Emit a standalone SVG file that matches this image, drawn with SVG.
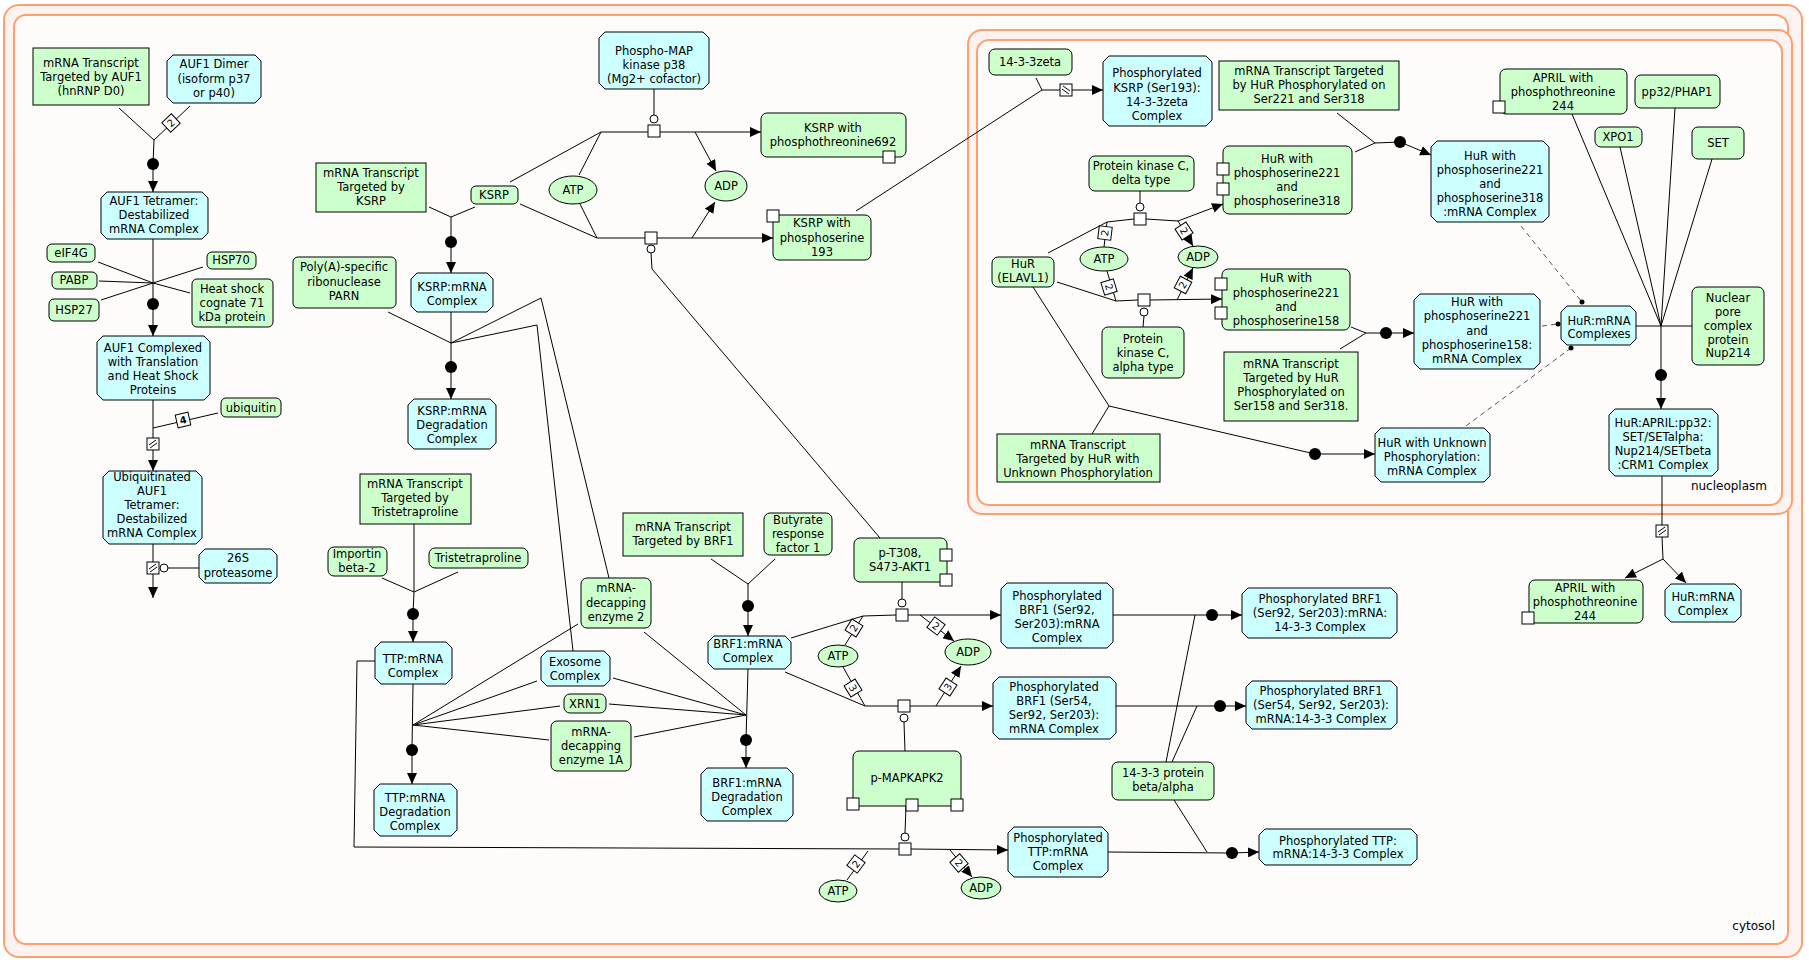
<svg xmlns="http://www.w3.org/2000/svg" width="1809" height="965" viewBox="0 0 1809 965">
<defs>
<marker id="arr" markerUnits="userSpaceOnUse" markerWidth="12" markerHeight="10" refX="11" refY="5" orient="auto"><path d="M0,0 L11,5 L0,10 z" fill="#000"/></marker>
<style>
.cpo{fill:#fcf2f0;stroke:#ff9f70;stroke-width:2}
.cpi{fill:#fdfcfb;stroke:#ff9f70;stroke-width:2}
.g{fill:#ccffcc;stroke:#000;stroke-width:1}
.b{fill:#ccffff;stroke:#000;stroke-width:1}
.m{fill:#fff;stroke:#000;stroke-width:1}
text{font-family:"DejaVu Sans","Liberation Sans",sans-serif;font-size:11.5px;text-anchor:middle;fill:#000}
.lbl{text-anchor:end;font-size:12px}
.c line,.c polyline,.c path{stroke:#000;fill:none;stroke-width:1}
.a{marker-end:url(#arr)}
.dot{fill:#000;stroke:none}
.cat{fill:#fff;stroke:#000;stroke-width:1}
.rs{fill:#fff;stroke:#000;stroke-width:1}
.st text{font-size:10px}
.c .dsh{stroke:#555;stroke-dasharray:5 4}
</style>
</defs>

<rect width="1809" height="965" fill="#fff"/>

<!-- compartments -->
<g id="cytosol">
<rect class="cpo" x="4" y="5" width="1798" height="952" rx="15"/>
<rect class="cpi" x="14" y="15" width="1774" height="929" rx="12"/>
<text class="lbl" x="1775" y="930">cytosol</text>
</g>
<g id="nucleoplasm">
<rect class="cpo" x="968" y="30" width="824" height="484" rx="14"/>
<rect class="cpi" x="977" y="40" width="805" height="465" rx="12"/>
<text class="lbl" x="1767" y="490">nucleoplasm</text>
</g>

<!-- connectors -->
<g id="connectors" class="c">
<!-- AUF1 dimer binds transcript -->
<polyline points="119,108 154,140 190,106"/>
<line x1="154" y1="140" x2="153" y2="164"/>
<circle class="dot" cx="153" cy="164" r="6"/>
<line class="a" x1="153" y1="164" x2="153" y2="192"/>
<g class="st" transform="translate(171,123) rotate(-43)"><rect class="rs" x="-6.5" y="-6.5" width="13" height="13"/><text y="3.5">2</text></g>

<!-- translation / heat shock complex -->
<line x1="153" y1="239" x2="153" y2="304"/>
<line x1="98" y1="262" x2="153" y2="283"/>
<line x1="99" y1="281" x2="153" y2="283"/>
<line x1="101" y1="300" x2="153" y2="283"/>
<line x1="203" y1="267" x2="153" y2="283"/>
<line x1="190" y1="293" x2="153" y2="283"/>
<circle class="dot" cx="153" cy="304" r="6"/>
<line class="a" x1="153" y1="304" x2="153" y2="336"/>

<!-- ubiquitination -->
<line x1="153" y1="400" x2="153" y2="438"/>
<line x1="218" y1="413" x2="153" y2="428"/>
<g class="st" transform="translate(183,420) rotate(-13)"><rect class="rs" x="-6.5" y="-6.5" width="13" height="13"/><text y="3.5" font-weight="bold">4</text></g>
<g transform="translate(153,444)"><rect class="rs" x="-6" y="-6" width="12" height="12"/><path d="M-4,1 L3,-4 M-3,4 L4,-1"/></g>
<line class="a" x1="153" y1="450" x2="153" y2="471"/>

<!-- proteasomal degradation -->
<line x1="153" y1="544" x2="153" y2="562"/>
<g transform="translate(153,568)"><rect class="rs" x="-6" y="-6" width="12" height="12"/><path d="M-4,1 L3,-4 M-3,4 L4,-1"/></g>
<circle class="cat" cx="164" cy="568" r="4"/>
<line x1="168" y1="568" x2="199" y2="568"/>
<line class="a" x1="153" y1="574" x2="153" y2="598"/>

<!-- KSRP binds transcript -->
<polyline points="429,207 451,217 475,207"/>
<line x1="451" y1="217" x2="451" y2="242"/>
<circle class="dot" cx="451" cy="242" r="6"/>
<line class="a" x1="451" y1="242" x2="451" y2="273"/>

<!-- KSRP degradation -->
<line x1="451" y1="312" x2="451" y2="367"/>
<line x1="388" y1="312" x2="451" y2="343"/>
<polyline points="451,343 537,325 573,651"/>
<polyline points="451,343 541,298 609,578"/>
<circle class="dot" cx="451" cy="367" r="6"/>
<line class="a" x1="451" y1="367" x2="451" y2="399"/>

<!-- p38 phosphorylates KSRP T692 -->
<line x1="654" y1="89" x2="654" y2="115"/>
<circle class="cat" cx="654" cy="119" r="4"/>
<polyline points="510,182 601,132 648,132"/>
<line x1="579" y1="175" x2="601" y2="132"/>
<rect class="rs" x="648" y="125" width="12" height="12"/>
<line class="a" x1="660" y1="132" x2="761" y2="132"/>
<line class="a" x1="695" y1="132" x2="716" y2="171"/>

<!-- AKT1 phosphorylates KSRP S193 -->
<polyline points="520,204 597,238 645,238"/>
<line x1="580" y1="204" x2="597" y2="238"/>
<rect class="rs" x="645" y="232" width="12" height="12"/>
<line class="a" x1="657" y1="238" x2="773" y2="238"/>
<line class="a" x1="692" y1="238" x2="715" y2="202"/>
<circle class="cat" cx="651" cy="249" r="4"/>
<polyline points="651,253 652,269 880,538"/>

<!-- 14-3-3zeta binds KSRP S193 -->
<polyline points="856,211 1042,90 1060,90"/>
<line x1="1036" y1="78" x2="1042" y2="90"/>
<g transform="translate(1066,90)"><rect class="rs" x="-6" y="-6" width="12" height="12"/><path d="M-4,-1 L3,4 M-3,-4 L4,1"/></g>
<line class="a" x1="1072" y1="90" x2="1103" y2="90"/>

<!-- PKC delta phosphorylates HuR -->
<line x1="1140" y1="191" x2="1140" y2="203"/>
<circle class="cat" cx="1140" cy="207" r="4"/>
<polyline points="1048,253 1107,222 1134,219"/>
<line x1="1104" y1="247" x2="1107" y2="222"/>
<rect class="rs" x="1134" y="213" width="12" height="12"/>
<line x1="1146" y1="219" x2="1178" y2="221"/>
<line class="a" x1="1178" y1="221" x2="1223" y2="204"/>
<line class="a" x1="1178" y1="221" x2="1193" y2="246"/>
<g class="st" transform="translate(1105,233) rotate(-83)"><rect class="rs" x="-6.5" y="-6.5" width="13" height="13"/><text y="3.5">2</text></g>
<g class="st" transform="translate(1184,231) rotate(57)"><rect class="rs" x="-6.5" y="-6.5" width="13" height="13"/><text y="3.5">2</text></g>

<!-- PKC alpha phosphorylates HuR -->
<line x1="1143" y1="327" x2="1144" y2="316"/>
<circle class="cat" cx="1144" cy="312" r="4"/>
<polyline points="1057,282 1116,301 1138,300"/>
<line x1="1107" y1="271" x2="1116" y2="301"/>
<rect class="rs" x="1138" y="294" width="12" height="12"/>
<line class="a" x1="1150" y1="300" x2="1222" y2="299"/>
<line class="a" x1="1177" y1="300" x2="1193" y2="268"/>
<g class="st" transform="translate(1109,287) rotate(73)"><rect class="rs" x="-6.5" y="-6.5" width="13" height="13"/><text y="3.5">2</text></g>
<g class="st" transform="translate(1183,285) rotate(-62)"><rect class="rs" x="-6.5" y="-6.5" width="13" height="13"/><text y="3.5">2</text></g>

<!-- phospho-HuR binds transcripts -->
<polyline points="1337,113 1375,143 1355,152"/>
<line x1="1375" y1="143" x2="1400" y2="142"/>
<circle class="dot" cx="1400" cy="142" r="6"/>
<line class="a" x1="1400" y1="142" x2="1431" y2="155"/>
<polyline points="1340,349 1366,333 1351,327"/>
<line x1="1366" y1="333" x2="1386" y2="333"/>
<circle class="dot" cx="1386" cy="333" r="6"/>
<line class="a" x1="1386" y1="333" x2="1414" y2="333"/>
<polyline points="1033,287 1109,406 1092,434"/>
<line x1="1109" y1="406" x2="1315" y2="454"/>
<circle class="dot" cx="1315" cy="454" r="6"/>
<line class="a" x1="1315" y1="454" x2="1375" y2="454"/>

<!-- HuR:mRNA set members -->
<line class="dsh" x1="1521" y1="226" x2="1582" y2="302"/>
<circle class="dot" cx="1582" cy="302" r="2.5"/>
<line class="dsh" x1="1542" y1="326" x2="1558" y2="324"/>
<circle class="dot" cx="1558" cy="324" r="2.5"/>
<line class="dsh" x1="1466" y1="426" x2="1571" y2="348"/>
<circle class="dot" cx="1571" cy="348" r="2.5"/>

<!-- export complex assembly -->
<line x1="1572" y1="114" x2="1661" y2="326"/>
<line x1="1620" y1="147" x2="1661" y2="326"/>
<line x1="1675" y1="108" x2="1661" y2="326"/>
<line x1="1712" y1="159" x2="1661" y2="326"/>
<line x1="1636" y1="326" x2="1692" y2="326"/>
<line x1="1661" y1="326" x2="1661" y2="375"/>
<circle class="dot" cx="1661" cy="375" r="6"/>
<line class="a" x1="1661" y1="375" x2="1661" y2="409"/>

<!-- export complex dissociation -->
<line x1="1662" y1="476" x2="1662" y2="525"/>
<g transform="translate(1662,531)"><rect class="rs" x="-6" y="-6" width="12" height="12"/><path d="M-4,1 L3,-4 M-3,4 L4,-1"/></g>
<line x1="1662" y1="537" x2="1663" y2="559"/>
<line class="a" x1="1663" y1="559" x2="1625" y2="578"/>
<line class="a" x1="1663" y1="559" x2="1686" y2="583"/>

<!-- TTP binds transcript -->
<polyline points="382,578 414,592 458,572"/>
<line x1="414" y1="524" x2="414" y2="592"/>
<line x1="414" y1="592" x2="413" y2="614"/>
<circle class="dot" cx="413" cy="614" r="6"/>
<line class="a" x1="413" y1="614" x2="413" y2="642"/>

<!-- TTP:mRNA degradation -->
<line x1="413" y1="684" x2="412" y2="750"/>
<line x1="413" y1="725" x2="578" y2="624"/>
<line x1="413" y1="725" x2="537" y2="681"/>
<line x1="413" y1="725" x2="560" y2="706"/>
<line x1="413" y1="725" x2="549" y2="740"/>
<circle class="dot" cx="412" cy="750" r="6"/>
<line class="a" x1="412" y1="750" x2="412" y2="784"/>

<!-- BRF1 binds transcript -->
<polyline points="711,559 748,584 775,559"/>
<line x1="748" y1="584" x2="748" y2="606"/>
<circle class="dot" cx="748" cy="606" r="6"/>
<line class="a" x1="748" y1="606" x2="748" y2="636"/>

<!-- BRF1:mRNA degradation -->
<line x1="748" y1="669" x2="746" y2="740"/>
<line x1="746" y1="715" x2="644" y2="632"/>
<line x1="746" y1="715" x2="613" y2="678"/>
<line x1="746" y1="715" x2="609" y2="704"/>
<line x1="746" y1="715" x2="634" y2="737"/>
<circle class="dot" cx="746" cy="740" r="6"/>
<line class="a" x1="746" y1="740" x2="746" y2="768"/>

<!-- AKT1 phosphorylates BRF1 -->
<line x1="902" y1="582" x2="902" y2="599"/>
<circle class="cat" cx="902" cy="603" r="4"/>
<polyline points="791,638 863,616 896,615"/>
<line x1="845" y1="645" x2="863" y2="616"/>
<rect class="rs" x="896" y="609" width="12" height="12"/>
<line class="a" x1="908" y1="615" x2="1001" y2="615"/>
<line class="a" x1="920" y1="615" x2="954" y2="641"/>
<g class="st" transform="translate(854,628) rotate(-58)"><rect class="rs" x="-6.5" y="-6.5" width="13" height="13"/><text y="3.5">2</text></g>
<g class="st" transform="translate(936,626) rotate(37)"><rect class="rs" x="-6.5" y="-6.5" width="13" height="13"/><text y="3.5">2</text></g>

<!-- MAPKAPK2 phosphorylates BRF1 -->
<line x1="905" y1="751" x2="904" y2="722"/>
<circle class="cat" cx="904" cy="718" r="4"/>
<polyline points="785,672 865,706 898,706"/>
<line x1="843" y1="667" x2="865" y2="706"/>
<rect class="rs" x="898" y="700" width="12" height="12"/>
<line class="a" x1="910" y1="706" x2="993" y2="706"/>
<line class="a" x1="936" y1="706" x2="961" y2="666"/>
<g class="st" transform="translate(853,688) rotate(58)"><rect class="rs" x="-6.5" y="-6.5" width="13" height="13"/><text y="3.5">3</text></g>
<g class="st" transform="translate(948,687) rotate(-57)"><rect class="rs" x="-6.5" y="-6.5" width="13" height="13"/><text y="3.5">3</text></g>

<!-- MAPKAPK2 phosphorylates TTP -->
<line x1="906" y1="806" x2="905" y2="833"/>
<circle class="cat" cx="905" cy="837" r="4"/>
<polyline points="375,661 357,661 354,847 899,849"/>
<rect class="rs" x="899" y="843" width="12" height="12"/>
<line class="a" x1="911" y1="849" x2="1008" y2="850"/>
<line x1="847" y1="880" x2="868" y2="851"/>
<line class="a" x1="950" y1="850" x2="972" y2="877"/>
<g class="st" transform="translate(856,864) rotate(-53)"><rect class="rs" x="-6.5" y="-6.5" width="13" height="13"/><text y="3.5">2</text></g>
<g class="st" transform="translate(959,863) rotate(49)"><rect class="rs" x="-6.5" y="-6.5" width="13" height="13"/><text y="3.5">2</text></g>

<!-- 14-3-3 beta/alpha binding -->
<line x1="1113" y1="615" x2="1212" y2="615"/>
<line x1="1166" y1="762" x2="1195" y2="615"/>
<circle class="dot" cx="1212" cy="615" r="6"/>
<line class="a" x1="1212" y1="615" x2="1242" y2="615"/>
<line x1="1116" y1="706" x2="1220" y2="706"/>
<line x1="1172" y1="762" x2="1197" y2="706"/>
<circle class="dot" cx="1220" cy="706" r="6"/>
<line class="a" x1="1220" y1="706" x2="1246" y2="706"/>
<line x1="1108" y1="852" x2="1232" y2="853"/>
<line x1="1174" y1="800" x2="1207" y2="852"/>
<circle class="dot" cx="1232" cy="853" r="6"/>
<line class="a" x1="1232" y1="853" x2="1259" y2="852"/>
</g>

<!-- AUF1 branch -->
<g id="n_auf1_mrna"><rect class="g" x="33" y="48" width="116" height="57"/><text><tspan x="91" y="67">mRNA Transcript</tspan><tspan x="91" y="81">Targeted by AUF1</tspan><tspan x="91" y="95">(hnRNP D0)</tspan></text></g>
<g id="n_auf1_dimer"><polygon class="b" points="173,55 255,55 261,61 261,97 255,103 173,103 167,97 167,61"/><text><tspan x="214" y="68">AUF1 Dimer</tspan><tspan x="214" y="83">(isoform p37</tspan><tspan x="214" y="97">or p40)</tspan></text></g>
<g id="n_auf1_tetramer"><polygon class="b" points="107,192 202,192 208,198 208,233 202,239 107,239 101,233 101,198"/><text><tspan x="154" y="205">AUF1 Tetramer:</tspan><tspan x="154" y="219">Destabilized</tspan><tspan x="154" y="233">mRNA Complex</tspan></text></g>
<g id="n_eif4g"><rect class="g" x="47" y="244" width="48" height="18" rx="5"/><text x="71" y="257">eIF4G</text></g>
<g id="n_pabp"><rect class="g" x="52" y="272" width="45" height="17" rx="5"/><text x="74" y="284">PABP</text></g>
<g id="n_hsp27"><rect class="g" x="49" y="299" width="50" height="22" rx="5"/><text x="74" y="314">HSP27</text></g>
<g id="n_hsp70"><rect class="g" x="207" y="252" width="49" height="17" rx="5"/><text x="231" y="264">HSP70</text></g>
<g id="n_hsc71"><rect class="g" x="192" y="279" width="81" height="48" rx="5"/><text><tspan x="232" y="293">Heat shock</tspan><tspan x="232" y="307">cognate 71</tspan><tspan x="232" y="321">kDa protein</tspan></text></g>
<g id="n_auf1_complexed"><polygon class="b" points="103,336 204,336 210,342 210,394 204,400 103,400 97,394 97,342"/><text><tspan x="153" y="352">AUF1 Complexed</tspan><tspan x="153" y="366">with Translation</tspan><tspan x="153" y="380">and Heat Shock</tspan><tspan x="153" y="394">Proteins</tspan></text></g>
<g id="n_ubiquitin"><rect class="g" x="221" y="398" width="60" height="19" rx="5"/><text x="251" y="412">ubiquitin</text></g>
<g id="n_ub_auf1"><polygon class="b" points="109,471 196,471 202,477 202,538 196,544 109,544 103,538 103,477"/><text><tspan x="152" y="481">Ubiquitinated</tspan><tspan x="152" y="495">AUF1</tspan><tspan x="152" y="509">Tetramer:</tspan><tspan x="152" y="523">Destabilized</tspan><tspan x="152" y="537">mRNA Complex</tspan></text></g>
<g id="n_26s"><polygon class="b" points="205,549 271,549 277,555 277,577 271,583 205,583 199,577 199,555"/><text><tspan x="238" y="562">26S</tspan><tspan x="238" y="577">proteasome</tspan></text></g>

<!-- KSRP branch -->
<g id="n_ksrp_mrna"><rect class="g" x="316" y="163" width="110" height="49"/><text><tspan x="371" y="177">mRNA Transcript</tspan><tspan x="371" y="191">Targeted by</tspan><tspan x="371" y="205">KSRP</tspan></text></g>
<g id="n_parn"><rect class="g" x="293" y="257" width="103" height="51" rx="5"/><text><tspan x="344" y="271">Poly(A)-specific</tspan><tspan x="344" y="286">ribonuclease</tspan><tspan x="344" y="300">PARN</tspan></text></g>
<g id="n_ksrp_complex"><polygon class="b" points="417,273 487,273 493,279 493,306 487,312 417,312 411,306 411,279"/><text><tspan x="452" y="291">KSRP:mRNA</tspan><tspan x="452" y="305">Complex</tspan></text></g>
<g id="n_ksrp_deg"><polygon class="b" points="414,399 490,399 496,405 496,443 490,449 414,449 408,443 408,405"/><text><tspan x="452" y="415">KSRP:mRNA</tspan><tspan x="452" y="429">Degradation</tspan><tspan x="452" y="443">Complex</tspan></text></g>
<g id="n_p38"><polygon class="b" points="605,32 703,32 709,38 709,83 703,89 605,89 599,83 599,38"/><text><tspan x="654" y="55">Phospho-MAP</tspan><tspan x="654" y="69">kinase p38</tspan><tspan x="654" y="83">(Mg2+ cofactor)</tspan></text></g>
<g id="n_ksrp"><rect class="g" x="471" y="186" width="47" height="18" rx="5"/><text x="494" y="199">KSRP</text></g>
<g id="n_atp1"><ellipse class="g" cx="573" cy="190" rx="24" ry="14"/><text x="573" y="194">ATP</text></g>
<g id="n_adp1"><ellipse class="g" cx="726" cy="186" rx="21" ry="15"/><text x="726" y="190">ADP</text></g>
<g id="n_ksrp_t692"><rect class="g" x="761" y="113" width="145" height="44" rx="6"/><text><tspan x="833" y="132">KSRP with</tspan><tspan x="833" y="146">phosphothreonine692</tspan></text><rect class="m" x="883" y="151" width="12" height="12"/></g>
<g id="n_ksrp_s193"><rect class="g" x="773" y="215" width="98" height="45" rx="6"/><text><tspan x="822" y="227">KSRP with</tspan><tspan x="822" y="242">phosphoserine</tspan><tspan x="822" y="256">193</tspan></text><rect class="m" x="767" y="210" width="12" height="12"/></g>
<g id="n_1433zeta"><rect class="g" x="989" y="49" width="83" height="26" rx="6"/><text x="1030" y="66">14-3-3zeta</text></g>
<g id="n_pksrp_1433"><polygon class="b" points="1109,56 1206,56 1212,62 1212,120 1206,126 1109,126 1103,120 1103,62"/><text><tspan x="1157" y="77">Phosphorylated</tspan><tspan x="1157" y="92">KSRP (Ser193):</tspan><tspan x="1157" y="106">14-3-3zeta</tspan><tspan x="1157" y="120">Complex</tspan></text></g>

<!-- HuR branch -->
<g id="n_hur_mrna_221_318"><rect class="g" x="1219" y="61" width="180" height="49"/><text><tspan x="1309" y="75">mRNA Transcript Targeted</tspan><tspan x="1309" y="89">by HuR Phosphorylated on</tspan><tspan x="1309" y="103">Ser221 and Ser318</tspan></text></g>
<g id="n_pkc_delta"><rect class="g" x="1089" y="156" width="105" height="35" rx="6"/><text><tspan x="1141" y="170">Protein kinase C,</tspan><tspan x="1141" y="184">delta type</tspan></text></g>
<g id="n_hur_s221_s318"><rect class="g" x="1223" y="146" width="129" height="68" rx="6"/><text><tspan x="1287" y="163">HuR with</tspan><tspan x="1287" y="177">phosphoserine221</tspan><tspan x="1287" y="191">and</tspan><tspan x="1287" y="205">phosphoserine318</tspan></text><rect class="m" x="1217" y="163" width="12" height="12"/><rect class="m" x="1217" y="183" width="12" height="12"/></g>
<g id="n_hur"><rect class="g" x="992" y="257" width="62" height="30" rx="6"/><text><tspan x="1023" y="268">HuR</tspan><tspan x="1023" y="282">(ELAVL1)</tspan></text></g>
<g id="n_atp2"><ellipse class="g" cx="1104" cy="259" rx="24" ry="12"/><text x="1104" y="263">ATP</text></g>
<g id="n_adp2"><ellipse class="g" cx="1198" cy="257" rx="20" ry="11"/><text x="1198" y="261">ADP</text></g>
<g id="n_hur_s221_s158"><rect class="g" x="1222" y="269" width="128" height="61" rx="6"/><text><tspan x="1286" y="282">HuR with</tspan><tspan x="1286" y="297">phosphoserine221</tspan><tspan x="1286" y="311">and</tspan><tspan x="1286" y="325">phosphoserine158</tspan></text><rect class="m" x="1215" y="278" width="12" height="12"/><rect class="m" x="1215" y="307" width="12" height="12"/></g>
<g id="n_pkc_alpha"><rect class="g" x="1102" y="327" width="82" height="51" rx="6"/><text><tspan x="1143" y="343">Protein</tspan><tspan x="1143" y="357">kinase C,</tspan><tspan x="1143" y="371">alpha type</tspan></text></g>
<g id="n_hur_mrna_158_318"><rect class="g" x="1224" y="352" width="134" height="69"/><text><tspan x="1291" y="368">mRNA Transcript</tspan><tspan x="1291" y="382">Targeted by HuR</tspan><tspan x="1291" y="396">Phosphorylated on</tspan><tspan x="1291" y="410">Ser158 and Ser318.</tspan></text></g>
<g id="n_hur_mrna_unknown"><rect class="g" x="997" y="434" width="163" height="48"/><text><tspan x="1078" y="449">mRNA Transcript</tspan><tspan x="1078" y="463">Targeted by HuR with</tspan><tspan x="1078" y="477">Unknown Phosphorylation</tspan></text></g>
<g id="n_hur_221_318_cx"><polygon class="b" points="1437,141 1543,141 1549,147 1549,216 1543,222 1437,222 1431,216 1431,147"/><text><tspan x="1490" y="160">HuR with</tspan><tspan x="1490" y="174">phosphoserine221</tspan><tspan x="1490" y="188">and</tspan><tspan x="1490" y="202">phosphoserine318</tspan><tspan x="1490" y="216">:mRNA Complex</tspan></text></g>
<g id="n_hur_221_158_cx"><polygon class="b" points="1420,294 1534,294 1540,300 1540,363 1534,369 1420,369 1414,363 1414,300"/><text><tspan x="1477" y="306">HuR with</tspan><tspan x="1477" y="320">phosphoserine221</tspan><tspan x="1477" y="335">and</tspan><tspan x="1477" y="349">phosphoserine158:</tspan><tspan x="1477" y="363">mRNA Complex</tspan></text></g>
<g id="n_hur_unknown_cx"><polygon class="b" points="1381,428 1484,428 1490,434 1490,476 1484,482 1381,482 1375,476 1375,434"/><text><tspan x="1432" y="447">HuR with Unknown</tspan><tspan x="1432" y="461">Phosphorylation:</tspan><tspan x="1432" y="475">mRNA Complex</tspan></text></g>
<g id="n_hur_complexes"><polygon class="b" points="1567,306 1630,306 1636,312 1636,339 1630,345 1567,345 1561,339 1561,312"/><text><tspan x="1599" y="325">HuR:mRNA</tspan><tspan x="1599" y="338">Complexes</tspan></text></g>
<g id="n_april_top"><rect class="g" x="1500" y="69" width="127" height="45" rx="6"/><text><tspan x="1563" y="82">APRIL with</tspan><tspan x="1563" y="96">phosphothreonine</tspan><tspan x="1563" y="110">244</tspan></text><rect class="m" x="1493" y="101" width="12" height="12"/></g>
<g id="n_pp32"><rect class="g" x="1635" y="75" width="85" height="33" rx="6"/><text x="1677" y="96">pp32/PHAP1</text></g>
<g id="n_xpo1"><rect class="g" x="1595" y="127" width="47" height="20" rx="6"/><text x="1618" y="141">XPO1</text></g>
<g id="n_set"><rect class="g" x="1692" y="127" width="52" height="32" rx="6"/><text x="1718" y="147">SET</text></g>
<g id="n_nup214"><rect class="g" x="1692" y="287" width="72" height="78" rx="6"/><text><tspan x="1728" y="302">Nuclear</tspan><tspan x="1728" y="316">pore</tspan><tspan x="1728" y="330">complex</tspan><tspan x="1728" y="344">protein</tspan><tspan x="1728" y="357">Nup214</tspan></text></g>
<g id="n_hur_april_cx"><polygon class="b" points="1615,409 1712,409 1718,415 1718,470 1712,476 1615,476 1609,470 1609,415"/><text><tspan x="1663" y="427">HuR:APRIL:pp32:</tspan><tspan x="1663" y="441">SET/SETalpha:</tspan><tspan x="1663" y="455">Nup214/SETbeta</tspan><tspan x="1663" y="469">:CRM1 Complex</tspan></text></g>
<g id="n_april_bottom"><rect class="g" x="1529" y="580" width="114" height="43" rx="6"/><text><tspan x="1585" y="592">APRIL with</tspan><tspan x="1585" y="606">phosphothreonine</tspan><tspan x="1585" y="620">244</tspan></text><rect class="m" x="1522" y="612" width="12" height="12"/></g>
<g id="n_hur_mrna_cx"><polygon class="b" points="1671,584 1735,584 1741,590 1741,616 1735,622 1671,622 1665,616 1665,590"/><text><tspan x="1703" y="601">HuR:mRNA</tspan><tspan x="1703" y="615">Complex</tspan></text></g>

<!-- TTP branch -->
<g id="n_ttp_mrna"><rect class="g" x="360" y="474" width="111" height="50"/><text><tspan x="415" y="488">mRNA Transcript</tspan><tspan x="415" y="502">Targeted by</tspan><tspan x="415" y="516">Tristetraproline</tspan></text></g>
<g id="n_importin"><rect class="g" x="328" y="547" width="59" height="29" rx="6"/><text><tspan x="357" y="558">Importin</tspan><tspan x="357" y="572">beta-2</tspan></text></g>
<g id="n_ttp"><rect class="g" x="429" y="548" width="99" height="20" rx="6"/><text x="478" y="562">Tristetraproline</text></g>
<g id="n_ttp_cx"><polygon class="b" points="381,642 446,642 452,648 452,678 446,684 381,684 375,678 375,648"/><text><tspan x="413" y="663">TTP:mRNA</tspan><tspan x="413" y="677">Complex</tspan></text></g>
<g id="n_ttp_deg"><polygon class="b" points="380,784 451,784 457,790 457,830 451,836 380,836 374,830 374,790"/><text><tspan x="415" y="802">TTP:mRNA</tspan><tspan x="415" y="816">Degradation</tspan><tspan x="415" y="830">Complex</tspan></text></g>
<g id="n_dcp2"><rect class="g" x="581" y="578" width="70" height="50" rx="6"/><text><tspan x="616" y="592">mRNA-</tspan><tspan x="616" y="607">decapping</tspan><tspan x="616" y="621">enzyme 2</tspan></text></g>
<g id="n_exosome"><polygon class="b" points="547,651 604,651 610,657 610,680 604,686 547,686 541,680 541,657"/><text><tspan x="575" y="666">Exosome</tspan><tspan x="575" y="680">Complex</tspan></text></g>
<g id="n_xrn1"><rect class="g" x="564" y="694" width="42" height="19" rx="6"/><text x="585" y="708">XRN1</text></g>
<g id="n_dcp1a"><rect class="g" x="551" y="721" width="80" height="50" rx="6"/><text><tspan x="591" y="736">mRNA-</tspan><tspan x="591" y="750">decapping</tspan><tspan x="591" y="764">enzyme 1A</tspan></text></g>

<!-- BRF1 branch -->
<g id="n_brf1_mrna"><rect class="g" x="623" y="513" width="120" height="43"/><text><tspan x="683" y="531">mRNA Transcript</tspan><tspan x="683" y="545">Targeted by BRF1</tspan></text></g>
<g id="n_brf1"><rect class="g" x="764" y="513" width="68" height="42" rx="6"/><text><tspan x="798" y="524">Butyrate</tspan><tspan x="798" y="538">response</tspan><tspan x="798" y="552">factor 1</tspan></text></g>
<g id="n_akt1"><rect class="g" x="854" y="538" width="93" height="44" rx="6"/><text><tspan x="900" y="557">p-T308,</tspan><tspan x="900" y="571">S473-AKT1</tspan></text><rect class="m" x="940" y="549" width="12" height="12"/><rect class="m" x="940" y="574" width="12" height="12"/></g>
<g id="n_brf1_cx"><polygon class="b" points="714,636 785,636 791,642 791,663 785,669 714,669 708,663 708,642"/><text><tspan x="748" y="648">BRF1:mRNA</tspan><tspan x="748" y="662">Complex</tspan></text></g>
<g id="n_brf1_deg"><polygon class="b" points="707,768 787,768 793,774 793,815 787,821 707,821 701,815 701,774"/><text><tspan x="747" y="787">BRF1:mRNA</tspan><tspan x="747" y="801">Degradation</tspan><tspan x="747" y="815">Complex</tspan></text></g>
<g id="n_atp3"><ellipse class="g" cx="838" cy="656" rx="20" ry="11"/><text x="838" y="660">ATP</text></g>
<g id="n_adp3"><ellipse class="g" cx="968" cy="652" rx="23" ry="13"/><text x="968" y="656">ADP</text></g>
<g id="n_mk2"><rect class="g" x="853" y="751" width="108" height="55" rx="6"/><text x="907" y="782">p-MAPKAPK2</text><rect class="m" x="847" y="798" width="12" height="12"/><rect class="m" x="906" y="799" width="12" height="12"/><rect class="m" x="951" y="799" width="12" height="12"/></g>
<g id="n_atp4"><ellipse class="g" cx="838" cy="891" rx="19" ry="11"/><text x="838" y="895">ATP</text></g>
<g id="n_adp4"><ellipse class="g" cx="981" cy="888" rx="20" ry="11"/><text x="981" y="892">ADP</text></g>
<g id="n_pbrf1_9203"><polygon class="b" points="1007,583 1107,583 1113,589 1113,642 1107,648 1007,648 1001,642 1001,589"/><text><tspan x="1057" y="600">Phosphorylated</tspan><tspan x="1057" y="614">BRF1 (Ser92,</tspan><tspan x="1057" y="628">Ser203):mRNA</tspan><tspan x="1057" y="642">Complex</tspan></text></g>
<g id="n_pbrf1_549203"><polygon class="b" points="999,677 1110,677 1116,683 1116,733 1110,739 999,739 993,733 993,683"/><text><tspan x="1054" y="691">Phosphorylated</tspan><tspan x="1054" y="705">BRF1 (Ser54,</tspan><tspan x="1054" y="719">Ser92, Ser203):</tspan><tspan x="1054" y="733">mRNA Complex</tspan></text></g>
<g id="n_pttp"><polygon class="b" points="1014,827 1102,827 1108,833 1108,871 1102,877 1014,877 1008,871 1008,833"/><text><tspan x="1058" y="842">Phosphorylated</tspan><tspan x="1058" y="856">TTP:mRNA</tspan><tspan x="1058" y="870">Complex</tspan></text></g>
<g id="n_1433ba"><rect class="g" x="1112" y="762" width="102" height="38" rx="6"/><text><tspan x="1163" y="777">14-3-3 protein</tspan><tspan x="1163" y="791">beta/alpha</tspan></text></g>
<g id="n_pbrf1_9203_1433"><polygon class="b" points="1248,588 1391,588 1397,594 1397,632 1391,638 1248,638 1242,632 1242,594"/><text><tspan x="1320" y="603">Phosphorylated BRF1</tspan><tspan x="1320" y="617">(Ser92, Ser203):mRNA:</tspan><tspan x="1320" y="631">14-3-3 Complex</tspan></text></g>
<g id="n_pbrf1_549203_1433"><polygon class="b" points="1252,681 1391,681 1397,687 1397,723 1391,729 1252,729 1246,723 1246,687"/><text><tspan x="1321" y="695">Phosphorylated BRF1</tspan><tspan x="1321" y="709">(Ser54, Ser92, Ser203):</tspan><tspan x="1321" y="723">mRNA:14-3-3 Complex</tspan></text></g>
<g id="n_pttp_1433"><polygon class="b" points="1265,829 1411,829 1417,835 1417,859 1411,865 1265,865 1259,859 1259,835"/><text><tspan x="1338" y="845">Phosphorylated TTP:</tspan><tspan x="1338" y="858">mRNA:14-3-3 Complex</tspan></text></g>
</svg>
